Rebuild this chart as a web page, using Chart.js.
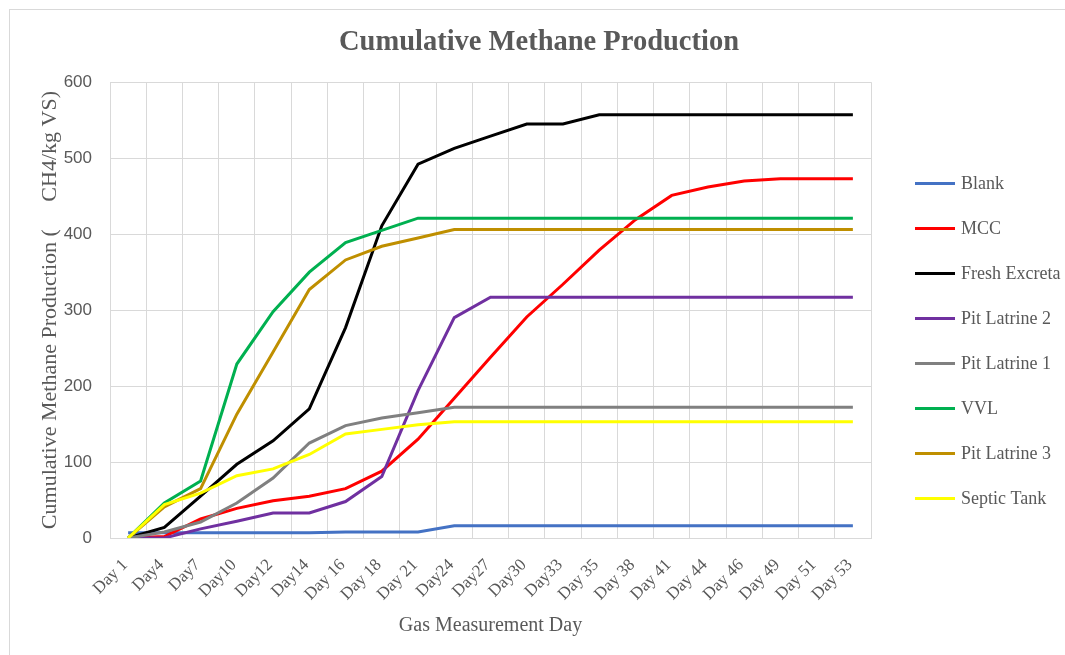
<!DOCTYPE html>
<html>
<head>
<meta charset="utf-8">
<title>Cumulative Methane Production</title>
<script src="https://cdn.jsdelivr.net/npm/chart.js@4/dist/chart.umd.min.js"></script>
<style>
  html, body { margin: 0; padding: 0; background: #fff; overflow: hidden; }
  #wrap { position: relative; width: 1065px; height: 655px; }
  #frame { position: absolute; left: 9px; top: 9px; width: 1100px; height: 700px; border: 1px solid #d9d9d9; }
  #chart { position: absolute; left: 0; top: 0; }
</style>
</head>
<body>
<div id="wrap">
  <div id="frame"></div>
  <canvas id="chart" width="1065" height="655"></canvas>
</div>
<script>
// Measurement days (x axis)
const days = ['Day 1', 'Day4', 'Day7', 'Day10', 'Day12', 'Day14', 'Day 16', 'Day 18', 'Day 21', 'Day24',
  'Day27', 'Day30', 'Day33', 'Day 35', 'Day 38', 'Day 41', 'Day 44', 'Day 46', 'Day 49', 'Day 51', 'Day 53'];

// Cumulative CH4 per kg VS for each substrate
const blank        = [7, 7, 7, 7, 7, 7, 8, 8, 8, 16, 16, 16, 16, 16, 16, 16, 16, 16, 16, 16, 16];
const mcc          = [0, 2, 25, 39, 49, 55, 65, 88, 130, 184, 238, 291, 334, 379, 419, 451, 462, 470, 473, 473, 473];
const freshExcreta = [0, 14, 55, 97, 128, 170, 277, 411, 492, 513, 529, 545, 545, 557, 557, 557, 557, 557, 557, 557, 557];
const pitLatrine2  = [0, 0, 12, 22, 33, 33, 48, 81, 194, 290, 317, 317, 317, 317, 317, 317, 317, 317, 317, 317, 317];
const pitLatrine1  = [0, 8, 21, 46, 79, 125, 148, 158, 165, 172, 172, 172, 172, 172, 172, 172, 172, 172, 172, 172, 172];
const vvl          = [0, 46, 75, 229, 298, 350, 389, 405, 421, 421, 421, 421, 421, 421, 421, 421, 421, 421, 421, 421, 421];
const pitLatrine3  = [0, 41, 65, 163, 245, 327, 366, 384, 395, 406, 406, 406, 406, 406, 406, 406, 406, 406, 406, 406, 406];
const septicTank   = [0, 44, 59, 82, 91, 110, 137, 143, 149, 153, 153, 153, 153, 153, 153, 153, 153, 153, 153, 153, 153];

const yTicks = [0, 100, 200, 300, 400, 500, 600];

const series = [
  { label: 'Blank',          data: blank,        color: '#4472C4' },
  { label: 'MCC',            data: mcc,          color: '#FF0000' },
  { label: 'Fresh Excreta',  data: freshExcreta, color: '#000000' },
  { label: 'Pit Latrine 2',  data: pitLatrine2,  color: '#7030A0' },
  { label: 'Pit Latrine 1',  data: pitLatrine1,  color: '#808080' },
  { label: 'VVL',            data: vvl,          color: '#00B050' },
  { label: 'Pit Latrine 3',  data: pitLatrine3,  color: '#BF8F00' },
  { label: 'Septic Tank',    data: septicTank,   color: '#FFFF00' }
];

const GRID = '#d9d9d9';
const TEXT = '#595959';
const SERIF = "'Liberation Serif', 'Times New Roman', serif";

// Legend as a layout box on the right: short line samples with labels.
// Being a non-fullSize box, the title still centres over the whole canvas.
const lineLegend = {
  id: 'lineLegend',
  beforeInit(chart) {
    const box = {
      position: 'right',
      weight: 100,
      fullSize: false,
      options: {},
      top: 0, left: 0, right: 0, bottom: 0, width: 0, height: 0,
      isHorizontal() { return false; },
      update(maxWidth, maxHeight) {
        this.width = 194;
        this.height = maxHeight;
      },
      draw(chartArea) {
        const ctx = chart.ctx;
        const sets = chart.data.datasets;
        const gap = 45;
        const mid = (chartArea.top + chartArea.bottom) / 2 + 31;
        const top = mid - (sets.length - 1) * gap / 2;
        const x0 = this.left + 44;
        ctx.save();
        ctx.font = '18px ' + SERIF;
        ctx.textBaseline = 'middle';
        ctx.fillStyle = TEXT;
        sets.forEach((ds, i) => {
          const y = top + i * gap;
          ctx.strokeStyle = ds.borderColor;
          ctx.lineWidth = 3;
          ctx.beginPath();
          ctx.moveTo(x0, y);
          ctx.lineTo(x0 + 40, y);
          ctx.stroke();
          ctx.fillText(ds.label, x0 + 46, y + 1);
        });
        ctx.restore();
      }
    };
    Chart.layouts.addBox(chart, box);
  }
};

new Chart(document.getElementById('chart'), {
  type: 'line',
  data: {
    labels: days,
    datasets: series.map((s, i) => ({
      label: s.label,
      data: s.data,
      borderColor: s.color,
      backgroundColor: s.color,
      borderWidth: 3,
      pointRadius: 0,
      tension: 0,
      fill: false,
      order: series.length - i
    }))
  },
  options: {
    responsive: false,
    animation: false,
    layout: { padding: { left: 13, right: 0, top: 0, bottom: 0 } },
    plugins: {
      legend: { display: false },
      tooltip: { enabled: false },
      title: {
        display: true,
        text: 'Cumulative Methane Production',
        color: TEXT,
        font: { family: SERIF, size: 28.5, weight: 'bold' },
        padding: { top: 26, bottom: 22 }
      }
    },
    scales: {
      x: {
        offset: true,
        grid: { offset: true, color: GRID, lineWidth: 1, drawTicks: false },
        border: { color: GRID, width: 1 },
        ticks: {
          color: TEXT,
          font: { family: SERIF, size: 17 },
          minRotation: 45,
          maxRotation: 45,
          autoSkip: false,
          padding: 17,
          labelOffset: -3
        },
        title: {
          display: true,
          text: 'Gas Measurement Day',
          color: TEXT,
          font: { family: SERIF, size: 20 },
          padding: { top: 0, bottom: 17 }
        },
        afterFit(scale) { scale.height = 117; }
      },
      y: {
        min: yTicks[0],
        max: yTicks[yTicks.length - 1],
        afterBuildTicks(scale) { scale.ticks = yTicks.map(v => ({ value: v })); },
        grid: { color: GRID, lineWidth: 1, drawTicks: false },
        border: { color: GRID, width: 1 },
        ticks: {
          color: TEXT,
          font: { family: "'Liberation Sans', Arial, sans-serif", size: 17 },
          padding: 18
        },
        title: {
          display: true,
          text: 'Cumulative Methane Production (     CH4/kg VS)',
          color: TEXT,
          font: { family: SERIF, size: 22 },
          padding: { top: 24, bottom: 0 }
        },
        afterFit(scale) { scale.width = 97; }
      }
    }
  },
  plugins: [lineLegend]
});
</script>
</body>
</html>
